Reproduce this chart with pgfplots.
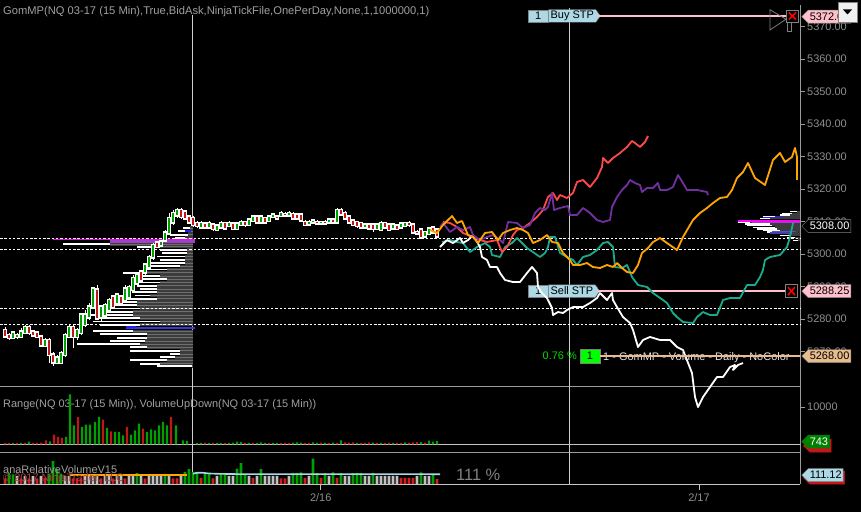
\documentclass[border=0pt]{standalone}
\usepackage{fontspec}
\setmainfont{Liberation Sans}
\usepackage{pgfplots}
\usepackage{pgfplotstable}
\pgfplotsset{compat=1.18}
\usetikzlibrary{shapes.symbols}

\definecolor{tickgray}{HTML}{8E8E8E}
\definecolor{titlegray}{HTML}{A0A0A0}
\definecolor{sepgray}{HTML}{9A9A9A}
\definecolor{sessgray}{HTML}{CFCFCF}
\definecolor{lightsep}{HTML}{C4C4C4}
\definecolor{cgreen}{HTML}{00A000}
\definecolor{cred}{HTML}{C01818}
\definecolor{lred}{HTML}{FF4848}
\definecolor{lpurple}{HTML}{7030A0}
\definecolor{lorange}{HTML}{FFA500}
\definecolor{lteal}{HTML}{1AAA8C}
\definecolor{stpblue}{HTML}{ADD8E6}
\definecolor{stppink}{HTML}{FFC0CB}
\definecolor{tanc}{HTML}{E8BC8C}
\definecolor{pocmag}{HTML}{FF00FF}
\definecolor{pocpur}{HTML}{A040C8}
\definecolor{profgray}{HTML}{3C3C3C}
\definecolor{profstripe}{HTML}{6E6E6E}
\definecolor{vgray}{HTML}{C0C0C0}
\definecolor{vred}{HTML}{D02020}
\definecolor{avgblue}{HTML}{A8D8E8}
\definecolor{pgreen}{HTML}{00FF00}
\definecolor{copyred}{HTML}{B04040}
\definecolor{pctgreen}{HTML}{00D800}
\definecolor{lbltxt}{HTML}{E4E4E4}
\definecolor{btnfill}{HTML}{F0F0F0}
\definecolor{bluea}{HTML}{3A3AD0}
\definecolor{blueb}{HTML}{2020FF}
\definecolor{bluec}{HTML}{5050C8}
\definecolor{blued}{HTML}{4040B0}
\definecolor{mkgreen}{HTML}{008000}
\definecolor{bigpct}{HTML}{808080}

\newcommand{\cf}{\fontsize{11}{13}\selectfont}
\pgfplotsset{/pgf/number format/assume math mode=true}

\pgfplotstableread{
x o h l c
5 5276.5 5277.5 5274.25 5274.75
9 5275.0 5275.75 5273.5 5274.25
13 5274.25 5276.25 5273.75 5275.75
17 5274.5 5275.75 5273.75 5275.0
21 5274.5 5277.25 5274.25 5276.0
25 5275.75 5278.25 5275.5 5277.5
29 5277.5 5278.25 5275.0 5275.75
33 5276.0 5276.5 5274.5 5275.0
37 5275.75 5276.25 5274.25 5274.5
41 5274.5 5275.0 5271.75 5272.0
45 5271.75 5274.25 5271.5 5273.5
49 5273.5 5274.25 5266.5 5269.0
53 5269.0 5269.75 5265.5 5266.75
57 5266.5 5269.0 5266.25 5268.0
61 5266.5 5270.25 5266.25 5269.5
65 5269.0 5275.75 5268.25 5275.0
69 5274.5 5278.25 5274.25 5277.5
73 5277.5 5278.25 5271.0 5274.5
77 5274.5 5277.25 5273.5 5276.5
81 5275.75 5281.75 5275.0 5281.25
85 5278.25 5282.75 5277.5 5281.25
89 5280.5 5285.0 5279.75 5283.75
93 5283.75 5289.75 5283.5 5289.25
97 5289.0 5290.5 5279.75 5280.25
101 5280.5 5284.25 5279.0 5283.75
105 5281.25 5285.0 5281.0 5284.25
109 5282.75 5286.5 5282.25 5285.75
113 5286.75 5287.5 5283.0 5283.75
117 5285.0 5288.0 5284.25 5287.5
121 5286.75 5287.5 5284.25 5285.0
125 5285.75 5290.5 5285.0 5289.25
129 5286.75 5290.5 5286.5 5289.75
133 5289.0 5293.5 5288.25 5292.5
137 5291.0 5294.25 5290.5 5293.5
141 5294.5 5295.0 5291.0 5292.0
145 5294.5 5297.25 5293.5 5296.75
149 5296.0 5299.75 5295.75 5299.0
153 5299.0 5303.5 5298.25 5302.75
157 5303.5 5303.75 5301.75 5302.25
161 5302.75 5304.25 5302.5 5303.75
165 5304.25 5307.5 5303.75 5306.5
169 5306.5 5312.5 5305.75 5311.0
173 5309.75 5313.5 5309.0 5312.5
177 5312.0 5314.25 5311.0 5313.5
181 5313.5 5314.25 5310.75 5311.5
185 5313.0 5313.5 5310.5 5311.0
189 5311.5 5312.0 5309.25 5309.75
193 5311.0 5311.75 5308.25 5309.0
197 5309.5 5310.25 5308.0 5308.75
201 5308.25 5310.25 5307.75 5309.5
205 5309.25 5309.75 5307.75 5308.25
209 5308.25 5310.25 5308.0 5309.5
213 5309.0 5309.5 5307.0 5307.75
217 5307.5 5309.25 5307.0 5308.75
221 5308.25 5310.25 5308.0 5309.5
225 5309.5 5309.75 5307.75 5308.0
229 5308.75 5310.25 5308.25 5309.5
233 5309.25 5309.75 5307.5 5307.75
237 5307.75 5309.5 5307.5 5309.25
241 5309.0 5310.5 5308.75 5309.75
245 5309.75 5310.25 5308.25 5309.0
249 5309.0 5311.0 5308.75 5310.5
253 5310.25 5312.0 5309.75 5311.5
257 5311.5 5311.75 5309.5 5309.75
261 5309.75 5312.0 5309.5 5311.5
265 5311.0 5311.5 5309.5 5309.75
269 5310.25 5312.0 5309.75 5311.5
273 5311.5 5312.5 5311.0 5312.0
277 5311.5 5312.0 5310.75 5311.0
281 5311.75 5313.25 5311.5 5312.5
285 5312.25 5313.0 5311.75 5312.0
289 5312.0 5313.25 5311.75 5312.5
293 5312.25 5313.0 5310.75 5311.0
297 5312.0 5312.25 5310.75 5311.0
301 5312.0 5312.25 5310.25 5310.5
305 5309.75 5310.5 5308.75 5309.0
309 5309.25 5310.5 5308.75 5309.75
313 5309.75 5310.75 5309.25 5310.25
317 5309.75 5310.5 5309.0 5309.5
321 5309.5 5310.25 5309.25 5309.75
325 5309.75 5310.5 5309.25 5309.5
329 5309.75 5311.0 5309.5 5310.5
333 5310.5 5310.75 5309.5 5309.75
337 5309.75 5314.25 5309.5 5313.5
341 5313.5 5314.25 5312.0 5312.25
345 5312.5 5313.25 5310.75 5311.0
349 5311.5 5312.0 5309.5 5309.75
353 5310.25 5310.75 5308.75 5309.0
357 5309.75 5310.25 5308.0 5308.75
361 5309.5 5309.75 5307.75 5308.25
365 5308.25 5309.5 5308.0 5309.0
369 5309.0 5309.5 5307.5 5308.0
373 5309.0 5309.25 5306.75 5307.75
377 5307.75 5309.5 5307.5 5309.0
381 5307.5 5310.25 5307.0 5309.5
385 5309.5 5309.75 5308.0 5308.25
389 5309.0 5309.25 5307.0 5307.5
393 5308.0 5309.25 5307.75 5309.0
397 5308.75 5309.0 5307.5 5307.75
401 5308.25 5309.75 5308.0 5309.25
405 5308.75 5309.75 5308.25 5309.5
409 5309.5 5310.25 5308.25 5309.0
413 5309.0 5309.25 5306.5 5306.75
417 5306.75 5307.5 5305.75 5306.5
421 5307.5 5307.75 5305.0 5305.25
425 5305.5 5307.0 5305.25 5306.75
429 5306.25 5308.0 5305.75 5307.75
433 5308.0 5308.75 5306.5 5306.75
437 5307.5 5307.75 5305.25 5305.5
}\candles

\pgfplotstableread{
p xl xw
5308.0 183 190
5307.0 178 188
5306.0 170 188
5305.0 175 185
5303.0 63 110
5302.25 137 160
5301.25 160 187
5300.25 162 187
5299.25 157 185
5298.25 160 185
5297.25 147 185
5296.25 150 180
5295.25 143 167
5294.25 123 147
5293.25 140 160
5292.25 133 167
5291.25 137 160
5290.25 137 157
5289.25 140 157
5288.25 132 157
5287.25 135 150
5286.25 113 157
5285.25 110 137
5284.25 107 137
5283.25 90 140
5282.25 95 133
5281.25 90 133
5280.25 97 140
5279.25 93 160
5278.25 100 140
5276.25 93 133
5275.25 100 147
5274.25 117 147
5273.25 110 145
5272.25 77 140
5271.25 130 147
5270.25 130 180
5269.25 170 180
5268.25 160 175
5267.25 130 167
5266.25 140 160
5265.5 157 192
}\lprof

\pgfplotstableread{
p xl xw
5313.0 790 797
5312.5 782 792
5312.0 780 790
5311.5 763 775
5311.0 760 770
5309.75 738 750
5309.25 745 770
5308.75 747 772
5308.25 753 775
5307.75 757 777
5307.25 763 780
5306.75 767 783
5306.25 775 788
5305.75 780 790
5305.0 787 795
5304.25 793 798
}\rprof

\pgfplotstableread{
x v d
5 400 0
9 350 0
13 300 1
17 300 0
21 350 1
25 400 0
29 700 1
33 350 0
37 400 0
41 450 0
46 1070 0
50 800 1
54 2590 0
58 1970 0
62 1700 0
66 1970 1
70 13400 1
74 5100 1
78 7300 0
82 4650 1
86 5270 1
90 5270 1
95 5990 1
99 7330 1
103 6610 0
107 4380 1
111 3490 0
115 3310 1
119 3310 1
123 2410 1
127 4650 0
131 2590 1
135 3750 1
139 5540 1
143 4200 0
147 3310 1
151 4020 1
155 3750 1
159 5090 1
163 5990 1
167 5090 1
171 7330 0
176 5090 1
183 1070 1
187 890 1
197 400 1
201 350 1
205 450 0
209 300 1
213 400 0
217 350 1
221 300 1
225 400 0
229 350 1
233 450 1
237 700 1
241 600 1
245 400 0
249 350 1
253 400 0
257 300 1
261 500 1
265 350 1
269 300 0
273 350 1
277 300 1
281 400 0
285 400 0
289 350 0
293 450 1
297 500 1
301 450 1
305 400 0
309 350 0
313 500 1
317 400 1
321 450 0
325 350 1
329 300 0
333 450 1
337 400 0
341 1070 1
345 500 0
349 450 0
353 500 0
357 400 1
361 350 0
365 400 0
369 500 0
373 450 1
377 400 0
381 350 1
385 400 0
389 450 0
393 350 1
397 400 0
401 400 0
405 500 1
409 450 0
413 500 0
417 550 0
421 600 1
425 450 0
429 1000 1
433 700 1
437 850 1
}\rng

\pgfplotstableread{
x v t
5 70 2
9 135 1
13 120 1
17 100 0
21 70 2
25 100 0
29 70 2
33 100 0
37 70 2
41 100 0
45 75 2
49 130 1
53 284 1
57 185 1
61 130 1
65 100 0
69 100 0
73 70 2
77 70 2
81 70 2
85 100 0
89 100 0
93 100 0
97 100 0
101 70 2
105 100 0
109 100 0
113 70 2
117 100 0
121 100 0
125 70 2
129 100 0
133 100 0
137 135 1
141 100 0
145 70 2
149 100 0
153 100 0
157 100 0
161 100 0
165 125 1
169 100 0
173 70 2
177 70 2
181 100 0
185 150 1
189 185 1
193 150 1
197 135 1
201 75 2
205 135 1
209 135 1
213 70 2
217 100 0
221 135 1
225 125 1
229 100 0
233 100 0
237 190 1
241 260 1
245 125 1
249 100 0
253 75 2
257 100 0
261 185 1
265 100 0
269 100 0
273 100 0
277 100 0
281 70 2
285 70 2
289 100 0
293 140 1
297 140 1
301 145 1
305 75 2
309 100 0
313 317 1
317 135 1
321 75 2
325 135 1
329 100 0
333 145 1
337 75 2
341 135 1
345 100 0
349 100 0
353 135 1
357 135 1
361 135 1
365 100 0
369 100 0
373 135 1
377 100 0
381 100 0
385 100 0
389 100 0
393 100 0
397 100 0
401 75 2
405 75 2
409 75 2
413 75 2
417 100 0
421 145 1
425 100 0
429 100 0
433 120 1
437 60 2
}\relvol

\tikzset{
  pmark/.style={signal, signal to=west, signal pointer angle=90, draw=#1,
    minimum height=13bp, inner xsep=1.5bp, inner ysep=0.5bp, anchor=west, font=\cf},
  xbox/.style={draw=gray, minimum width=12bp, minimum height=13bp, inner sep=0pt,
    path picture={\draw[red, line width=1.6bp]
      ([shift={(2.5bp,2.5bp)}]path picture bounding box.south west) --
      ([shift={(-2.5bp,-2.5bp)}]path picture bounding box.north east);
      \draw[red, line width=1.6bp]
      ([shift={(2.5bp,-2.5bp)}]path picture bounding box.north west) --
      ([shift={(-2.5bp,2.5bp)}]path picture bounding box.south east);}},
}

\begin{document}
\begin{tikzpicture}[x=1bp,y=1bp]
\useasboundingbox (0,0) rectangle (861,512);
\fill[black] (0,0) rectangle (861,512);
\draw[sepgray, line width=0.9bp] (0,125.3) -- (800,125.3);
\draw[sepgray, line width=0.9bp] (0,59.7) -- (800,59.7);
\draw[lightsep, line width=0.9bp] (0,67.7) -- (800,67.7);
\draw[lightsep, line width=0.9bp] (0,28) -- (800,28);
\draw[sepgray, line width=0.9bp] (800,28) -- (800,507);
\draw[sessgray, line width=0.9bp] (192.7,28) -- (192.7,497);
\draw[sessgray, line width=0.9bp] (569.3,28) -- (569.3,504);
\node[anchor=west, inner sep=0pt, text=titlegray, font=\fontsize{11.2}{13}\selectfont] at (3,500) {GomMP(NQ 03-17 (15 Min),True,BidAsk,NinjaTickFile,OnePerDay,None,1,1000000,1)};
\node[anchor=west, inner sep=0pt, text=titlegray, font=\cf] at (3,107.5) {Range(NQ 03-17 (15 Min)), VolumeUpDown(NQ 03-17 (15 Min))};

\begin{axis}[
  at={(0bp,126bp)}, anchor=south west,
  width=800bp, height=386bp, scale only axis,
  xmin=0, xmax=800, ymin=5259.38, ymax=5378.22,
  clip=false,
  axis x line=none, axis y line*=right,
  axis line style={draw=none},
  ytick={5270,5280,...,5370},
  tick align=outside, major tick length=5bp,
  y tick style={draw=sepgray, line width=0.8bp},
  yticklabel style={font=\cf, text=tickgray, inner sep=0pt, xshift=2bp,
    /pgf/number format/.cd, fixed, fixed zerofill, precision=2, 1000 sep={}},
]
\addplot[draw=none, mark=none, forget plot, error bars/.cd, x dir=minus, x explicit, error mark=none,
  error bar style={draw=profgray, line width=3.2bp}]
  table[x expr=193, y=p, x error minus expr={193-\thisrow{xw}}] {\lprof};
\addplot[draw=none, mark=none, forget plot, error bars/.cd, x dir=minus, x explicit, error mark=none,
  error bar style={draw=profstripe, line width=0.6bp}]
  table[x expr=193, y=p, x error minus expr={193-\thisrow{xw}}] {\lprof};
\addplot[draw=none, mark=none, forget plot, error bars/.cd, x dir=minus, x explicit, error mark=none,
  error bar style={draw=white, line width=1.9bp}]
  table[x=xw, y=p, x error minus expr={\thisrow{xw}-\thisrow{xl}}] {\lprof};
\addplot[pocmag, line width=1.4bp] coordinates {(53,5304.4) (195,5304.4)};
\addplot[pocpur, line width=2.4bp] coordinates {(110,5303.9) (195,5303.9)};
\addplot[white, line width=1.5bp] coordinates {(63,5303.2) (110,5303.2)};
\addplot[bluea, line width=2.2bp] coordinates {(126,5277.25) (195,5277.25)};
\addplot[blueb, line width=2.2bp] coordinates {(126,5277.5) (136,5277.5)};
\addplot[blueb, line width=2bp] coordinates {(185,5307.25) (191,5307.25)};
\addplot[draw=none, mark=none, forget plot, error bars/.cd, x dir=minus, x explicit, error mark=none,
  error bar style={draw=profgray, line width=1.7bp}]
  table[x expr=800, y=p, x error minus expr={800-\thisrow{xw}}] {\rprof};
\addplot[draw=none, mark=none, forget plot, error bars/.cd, x dir=minus, x explicit, error mark=none,
  error bar style={draw=white, line width=1.3bp}]
  table[x=xw, y=p, x error minus expr={\thisrow{xw}-\thisrow{xl}}] {\rprof};
\addplot[pocmag, line width=1.6bp] coordinates {(738,5310.25) (800,5310.25)};
\addplot[pocpur, line width=1.6bp] coordinates {(752,5309.75) (800,5309.75)};
\addplot[blueb, line width=1.6bp] coordinates {(763,5311.25) (782,5311.25)};
\addplot[bluec, line width=1.6bp] coordinates {(772,5307.0) (796,5307.0)};
\addplot[blued, line width=1.6bp] coordinates {(770,5306.5) (792,5306.5)};
\addplot[white, line width=0.8bp, dash pattern=on 2.5bp off 1.8bp] coordinates {(0,5304.85) (800,5304.85)};
\addplot[white, line width=0.8bp, dash pattern=on 2.5bp off 1.8bp] coordinates {(0,5301.46) (800,5301.46)};
\addplot[white, line width=0.8bp, dash pattern=on 2.5bp off 1.8bp] coordinates {(0,5283.29) (800,5283.29)};
\addplot[white, line width=0.8bp, dash pattern=on 2.5bp off 1.8bp] coordinates {(0,5278.37) (800,5278.37)};
\addplot[draw=none, mark=none, forget plot, error bars/.cd, y dir=both, y explicit, error mark=none,
  error bar style={draw=white, line width=0.8bp}]
  table[x=x, y=o, y error plus expr={\thisrow{h}-\thisrow{o}}, y error minus expr={\thisrow{o}-\thisrow{l}}] {\candles};
\addplot[draw=none, mark=none, forget plot, error bars/.cd, y dir=both, y explicit, error mark=none,
  error bar style={draw=white, line width=3.2bp, line cap=rect}]
  table[x=x, y=o, y error plus expr={max(\thisrow{c}-\thisrow{o},0)}, y error minus expr={max(\thisrow{o}-\thisrow{c},0)}] {\candles};
\addplot[draw=none, mark=none, forget plot, restrict expr to domain={\thisrow{c}-\thisrow{o}}{0.01:100},
  error bars/.cd, y dir=both, y explicit, error mark=none,
  error bar style={draw=cgreen, line width=1.6bp}]
  table[x=x, y=o, y error plus expr={\thisrow{c}-\thisrow{o}}, y error minus expr={0}] {\candles};
\addplot[draw=none, mark=none, forget plot, restrict expr to domain={\thisrow{o}-\thisrow{c}}{0.01:100},
  error bars/.cd, y dir=both, y explicit, error mark=none,
  error bar style={draw=cred, line width=1.6bp}]
  table[x=x, y=o, y error plus expr={0}, y error minus expr={\thisrow{o}-\thisrow{c}}] {\candles};

\node[draw=gray, fill=stpblue, minimum width=20bp, minimum height=12.5bp, inner sep=0pt, font=\cf, anchor=west] (s1) at (axis cs:528,5288.6) {1};
\node[signal, signal to=east, signal pointer angle=110, draw=gray, fill=stpblue, minimum height=12.5bp, inner xsep=2bp, inner ysep=0pt, font=\cf, anchor=west] at (s1.east) {Sell STP};
\addplot[stppink, line width=1.5bp] coordinates {(598,5288.6) (785,5288.6)};

\addplot[lteal, line width=1.8bp, line join=round] coordinates {
(442,5303.71) (450,5304.32) (457,5303.71) (463,5303.40) (470,5300.63) (477,5302.17) (485,5303.40) (490,5302.17)
(492,5299.71) (500,5299.09) (505,5302.17) (512,5303.40) (517,5304.94) (522,5303.40) (527,5301.86) (533,5300.63)
(540,5299.09) (545,5300.32) (548,5302.17) (550,5305.25) (555,5305.25) (557,5303.40) (560,5300.32) (567,5299.09)
(573,5298.17) (577,5296.63) (583,5299.09) (590,5299.71) (597,5301.24) (603,5303.40) (608,5303.71) (613,5302.17)
(615,5296.01) (622,5295.71) (627,5296.63) (632,5292.93) (638,5290.47) (647,5289.85) (653,5288.00) (663,5285.85)
(667,5284.93) (673,5281.85) (677,5280.61) (683,5279.08) (693,5278.77) (697,5280.61) (703,5282.15) (710,5281.23)
(717,5281.23) (723,5285.85) (730,5286.46) (740,5286.46) (747,5290.47) (755,5290.47) (760,5292.93) (763,5295.09)
(765,5298.17) (770,5299.09) (780,5299.71) (787,5302.17) (790,5305.25) (793,5309.56)};
\addplot[white, line width=1.8bp, line join=round] coordinates {
(440,5302.17) (447,5304.32) (453,5303.40) (460,5304.94) (463,5303.40) (468,5304.32) (473,5305.86) (480,5302.17)
(482,5299.09) (487,5298.17) (490,5296.01) (497,5296.01) (500,5294.17) (505,5292.01) (513,5291.39) (520,5291.39)
(527,5294.17) (532,5296.01) (537,5294.17) (538,5289.85) (542,5288.00) (547,5286.46) (552,5283.39) (553,5281.23)
(558,5282.15) (563,5281.85) (567,5282.77) (573,5283.69) (583,5283.69) (590,5284.93) (597,5286.46) (600,5288.00)
(607,5285.85) (612,5288.00) (613,5285.85) (617,5283.69) (623,5280.61) (630,5278.77) (633,5276.62) (638,5271.38)
(643,5273.54) (650,5274.47) (660,5273.54) (670,5273.54) (677,5271.38) (683,5270.45) (692,5263.37) (695,5255.98)
(698,5252.90) (703,5255.98) (710,5259.06) (717,5262.14) (723,5262.14) (730,5265.22) (735,5265.84) (733,5264.30)
(738,5265.84) (743,5266.45)};
\addplot[lred, line width=1.8bp, line join=round] coordinates {
(443,5309.87) (450,5309.56) (457,5308.33) (463,5306.48) (473,5305.25) (480,5304.32) (487,5303.71) (497,5304.32)
(502,5300.63) (507,5302.17) (513,5305.86) (517,5307.40) (523,5308.02) (530,5309.56) (537,5311.41) (543,5313.56)
(548,5317.57) (553,5318.80) (557,5316.64) (560,5318.18) (567,5317.26) (573,5318.80) (577,5322.18) (583,5322.80)
(590,5320.64) (597,5323.41) (602,5326.80) (603,5329.57) (608,5328.03) (613,5329.57) (620,5331.11) (627,5332.96)
(632,5334.81) (635,5334.19) (640,5332.96) (645,5334.50) (648,5336.35)};
\addplot[lpurple, line width=1.8bp, line join=round] coordinates {
(440,5308.33) (443,5309.56) (450,5306.79) (457,5308.33) (463,5307.40) (470,5308.33) (473,5305.86) (480,5304.32)
(487,5305.25) (493,5305.86) (500,5304.32) (503,5303.40) (508,5309.87) (517,5309.56) (523,5308.02) (530,5308.94)
(535,5312.64) (540,5314.18) (545,5313.56) (548,5314.49) (552,5318.80) (554,5313.56) (560,5314.18) (568,5314.79)
(570,5312.02) (577,5312.02) (583,5314.18) (590,5312.64) (597,5310.48) (603,5309.87) (610,5310.48) (612,5314.49)
(617,5317.57) (622,5319.72) (627,5321.26) (630,5322.80) (635,5321.88) (640,5321.26) (642,5319.10) (647,5320.34)
(653,5320.34) (658,5321.88) (660,5319.72) (667,5319.72) (673,5320.64) (678,5324.34) (683,5321.88) (687,5319.72)
(697,5319.72) (707,5319.10) (708,5318.18)};
\addplot[lorange, line width=1.8bp, line join=round] coordinates {
(430,5307.40) (437,5306.48) (443,5308.94) (452,5311.71) (457,5309.56) (462,5310.17) (468,5305.86) (473,5305.25)
(478,5303.40) (485,5306.48) (492,5306.79) (498,5304.32) (503,5306.48) (510,5307.40) (517,5308.02) (523,5307.40)
(528,5306.48) (533,5303.40) (540,5304.32) (547,5305.86) (552,5303.71) (558,5303.40) (563,5300.32) (570,5298.17)
(573,5296.63) (580,5296.63) (587,5297.24) (593,5296.01) (600,5295.71) (607,5296.63) (613,5296.01) (617,5297.24)
(622,5295.71) (627,5294.47) (633,5294.17) (638,5296.63) (642,5300.32) (648,5301.86) (653,5303.71) (660,5304.94)
(667,5303.40) (677,5301.24) (683,5305.25) (693,5310.48) (700,5312.64) (707,5314.18) (713,5315.72) (720,5317.26)
(727,5317.57) (732,5319.72) (737,5323.41) (743,5325.26) (748,5328.03) (755,5323.41) (765,5321.26) (773,5328.96)
(780,5331.11) (785,5328.34) (792,5329.88) (795,5332.65) (797,5329.88) (797,5322.80)};

\node[xbox] at (axis cs:791.5,5288.6) {};
\node[pmark=gray, fill=stppink, text=black] at (axis cs:801.5,5288.6) {5288.25};
\node[draw=gray, fill=stpblue, minimum width=20bp, minimum height=12.5bp, inner sep=0pt, font=\cf, anchor=west] (b1) at (axis cs:528,5373.3) {1};
\node[signal, signal to=east, signal pointer angle=110, draw=gray, fill=stpblue, minimum height=12.5bp, inner xsep=2bp, inner ysep=0pt, font=\cf, anchor=west] at (b1.east) {Buy STP};
\addplot[stppink, line width=1.5bp] coordinates {(598,5373.3) (787,5373.3)};
\draw[gray, line width=0.8bp] (axis cs:770,5375.2) -- (axis cs:786,5372.3) -- (axis cs:770,5369.0) -- cycle;
\draw[gray, line width=0.8bp] (axis cs:787,5371.2) rectangle (axis cs:791,5368.6);
\node[xbox, minimum height=12bp] at (axis cs:792.5,5373.3) {};
\node[pmark=gray, fill=stppink, text=black] at (axis cs:801.5,5373.1) {5372.00};
\node[pmark=gray, fill=black, text=white] at (axis cs:801.5,5308.6) {5308.00};
\node[anchor=east, inner sep=0pt, text=pctgreen, font=\cf] at (axis cs:577,5268.6) {0.76 \%};
\node[draw=gray, fill=pgreen, minimum width=20bp, minimum height=14bp, inner sep=0pt, font=\cf] at (axis cs:590,5268.6) {1};
\node[anchor=west, inner sep=0pt, text=lbltxt, font=\cf] at (axis cs:603,5268.2) {1 - GomMP - Volume - Daily - NoColor};
\addplot[tanc, line width=1.5bp] coordinates {(600,5268.6) (800,5268.6)};
\node[pmark=gray, fill=tanc, text=black] at (axis cs:801.5,5268.6) {5268.00};
\end{axis}
\node[draw=gray, fill=btnfill, minimum width=19bp, minimum height=20bp, inner sep=0pt,
  path picture={\fill[black] ([shift={(-4.5bp,2.5bp)}]path picture bounding box.center) -- ([shift={(4.5bp,2.5bp)}]path picture bounding box.center) -- ([shift={(0bp,-2.5bp)}]path picture bounding box.center) -- cycle;}] at (847.5,500) {};

\begin{axis}[
  at={(0bp,67.7bp)}, anchor=south west,
  width=800bp, height=57.6bp, scale only axis,
  xmin=0, xmax=800, ymin=0, ymax=15440,
  clip=false,
  axis x line=none, axis y line*=right,
  axis line style={draw=none},
  ytick={10000}, scaled y ticks=false,
  tick align=outside, major tick length=5bp,
  y tick style={draw=sepgray, line width=0.8bp},
  yticklabel style={font=\cf, text=tickgray, inner sep=0pt, xshift=2bp,
    /pgf/number format/.cd, 1000 sep={}},
]
\addplot[ybar, bar width=2.2bp, bar shift=0pt, fill=cgreen, draw=none,
  restrict expr to domain={\thisrow{d}}{0.5:1.5}] table[x=x, y=v] {\rng};
\addplot[ybar, bar width=2.2bp, bar shift=0pt, fill=cred, draw=none,
  restrict expr to domain={\thisrow{d}}{-0.5:0.5}] table[x=x, y=v] {\rng};
\node[pmark=cred, fill=cred] at (axis cs:803,-350) {\phantom{743}};
\node[pmark=mkgreen, fill=mkgreen, text=white] at (axis cs:801.5,743) {743};
\end{axis}

\begin{axis}[
  at={(0bp,28bp)}, anchor=south west,
  width=800bp, height=31.7bp, scale only axis,
  xmin=0, xmax=800, ymin=0, ymax=395,
  clip=false,
  axis x line*=bottom, axis y line=none,
  axis line style={draw=none},
  ytick=\empty,
  xtick={320.7,699}, xticklabels={2/16,2/17},
  tick align=outside, major tick length=6bp,
  x tick style={draw=lightsep, line width=0.8bp},
  xticklabel style={font=\cf, text=tickgray, inner sep=1bp, yshift=-2.5bp},
]
\addplot[ybar, bar width=2.7bp, bar shift=0pt, fill=vgray, draw=none,
  restrict expr to domain={\thisrow{t}}{-0.5:0.5}] table[x=x, y=v] {\relvol};
\addplot[ybar, bar width=2.7bp, bar shift=0pt, fill=cgreen, draw=none,
  restrict expr to domain={\thisrow{t}}{0.5:1.5}] table[x=x, y=v] {\relvol};
\addplot[ybar, bar width=2.7bp, bar shift=0pt, fill=vred, draw=none,
  restrict expr to domain={\thisrow{t}}{1.5:2.5}] table[x=x, y=v] {\relvol};
\addplot[lorange, line width=1.2bp] coordinates {(70,111) (187,111)};
\addplot[avgblue, line width=1.6bp] coordinates {(193,128) (197,140) (203,140) (208,132) (215,128) (230,124) (300,123) (440,122)};
\node[pmark=cred, fill=cred] at (axis cs:803,80) {\phantom{111.12}};
\node[pmark=gray, fill=stpblue, text=black] at (axis cs:801.5,111.12) {111.12};
\end{axis}
\node[anchor=west, inner sep=0pt, text=copyred, font=\cf] at (3,33) {© 2017 NinjaTrader, LLC};
\node[anchor=west, inner sep=0pt, text=titlegray, font=\cf] at (3,42.5) {anaRelativeVolumeV15};
\node[anchor=west, inner sep=0pt, text=bigpct, font=\fontsize{16.5}{18}\selectfont] at (456,37) {111 \%};
\end{tikzpicture}
\end{document}
